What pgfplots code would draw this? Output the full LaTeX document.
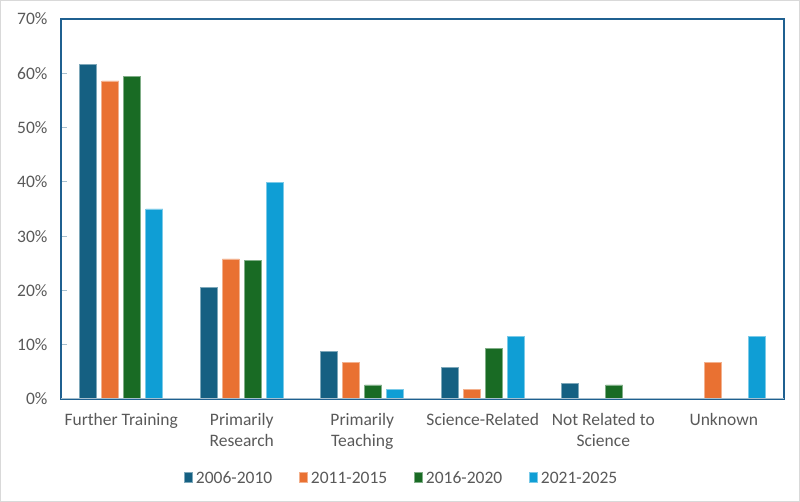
\documentclass[border=0pt]{standalone}
\usepackage{fontspec}
\setmainfont{Carlito}
\usepackage{pgfplots}
\pgfplotsset{compat=1.18}

\definecolor{cA}{HTML}{156082}
\definecolor{cB}{HTML}{E97132}
\definecolor{cC}{HTML}{196B24}
\definecolor{cD}{HTML}{0F9ED5}
\definecolor{frame}{HTML}{1F6090}
\definecolor{baseln}{HTML}{A7C0CF}
\definecolor{txt}{HTML}{595959}
\definecolor{outer}{HTML}{D9D9D9}

\begin{document}
\begin{tikzpicture}
\draw[outer, line width=1bp] (0.5bp,0.5bp) rectangle (799.5bp,501.5bp);
\begin{axis}[
    at={(61bp,103bp)}, anchor=south west,
    scale only axis, width=723bp, height=380bp,
    ybar, bar width=0.141,
    xmin=-0.5, xmax=5.5, ymin=0, ymax=70,
    xtick={0,1,2,3,4,5},
    xticklabels={Further Training, {Primarily\\Research}, {Primarily\\Teaching},
                 Science-Related, {Not Related to\\Science}, Unknown},
    ytick={0,10,...,70},
    yticklabel={\pgfmathprintnumber{\tick}\%},
    axis line style={draw=frame, line width=1.8bp},
    xtick style={draw=none},
    ytick style={draw=baseln, line width=1bp},
    major tick length=6bp, tick align=inside, ytick pos=left,
    font=\fontsize{17.5bp}{21bp}\selectfont,
    tick label style={text=txt},
    x tick label style={align=center, yshift=-11bp},
    y tick label style={xshift=-10bp},
    /pgf/number format/assume math mode=true,
    legend columns=4,
    legend style={at={(0.472,-0.21)}, anchor=center, draw=none, fill=none,
      text=txt, font=\fontsize{17.5bp}{21bp}\selectfont,
      /tikz/every even column/.append style={column sep=24bp},
      nodes={inner xsep=3bp, inner ysep=0pt},
      legend cell align=left, inner sep=0pt},
    legend image code/.code={\fill[#1] (0bp,-4bp) rectangle (8bp,6bp);},
]
\addplot[fill=cA, draw=cA!55!white, line width=0.7bp, bar shift=-0.274]
  coordinates {(0,61.7) (1,20.6) (2,8.8) (3,5.8) (4,2.8)};
\addplot[fill=cB, draw=cB!55!white, line width=0.7bp, bar shift=-0.091]
  coordinates {(0,58.6) (1,25.8) (2,6.8) (3,1.7) (5,6.8)};
\addplot[fill=cC, draw=cC!55!white, line width=0.7bp, bar shift=0.091]
  coordinates {(0,59.4) (1,25.6) (2,2.6) (3,9.3) (4,2.6)};
\addplot[fill=cD, draw=cD!55!white, line width=0.7bp, bar shift=0.274]
  coordinates {(0,35.0) (1,39.9) (2,1.7) (3,11.5) (5,11.5)};
\legend{2006-2010, 2011-2015, 2016-2020, 2021-2025}
\draw[baseln, line width=2bp] (rel axis cs:0,0) -- (rel axis cs:1,0);
\end{axis}
\end{tikzpicture}
\end{document}
